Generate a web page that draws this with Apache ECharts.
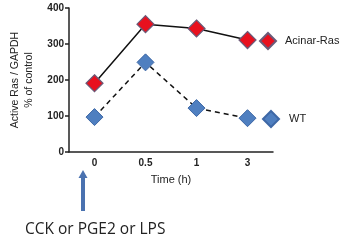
<!DOCTYPE html>
<html>
<head>
<meta charset="utf-8">
<script src="https://cdn.jsdelivr.net/npm/echarts@6/dist/echarts.min.js"></script>
<style>
html,body{margin:0;padding:0;background:#fff;}
#main{width:345px;height:242px;}
</style>
</head>
<body>
<div id="main"></div>
<script>
// time points (h)
var times = ['0', '0.5', '1', '3'];
// Active Ras / GAPDH, % of control
var acinarRas = [191, 355, 343, 311];
var wt = [97, 249, 122, 94];
var yTicks = [0, 100, 200, 300, 400];

var myChart = echarts.init(document.getElementById('main'));

var redItem = {color: '#e8101e', borderColor: '#6a5a78', borderWidth: 1.2};
var blueItem = {color: '#4f7fc0', borderColor: '#3e68a6', borderWidth: 1};

var option = {
	animation: false,
	backgroundColor: '#fff',
	grid: {left: 58, right: 72, top: 8, bottom: 90},
	legend: [{
		data: ['Acinar-Ras'], left: 254, top: 27,
		icon: 'diamond', itemWidth: 16, itemHeight: 16,
		textStyle: {fontFamily: 'Liberation Sans', fontSize: 11, color: '#222', padding: [0, 0, 0, 4]}
	}, {
		data: ['WT'], left: 257, top: 105,
		icon: 'diamond', itemWidth: 16, itemHeight: 16,
		textStyle: {fontFamily: 'Liberation Sans', fontSize: 11, color: '#222', padding: [0, 0, 0, 5]}
	}],
	xAxis: {
		type: 'category', data: times, boundaryGap: true,
		name: 'Time (h)', nameLocation: 'middle', nameGap: 22,
		nameTextStyle: {fontFamily: 'Liberation Sans', fontSize: 11, color: '#222'},
		axisLine: {lineStyle: {color: '#222', width: 1.5}},
		axisTick: {alignWithLabel: true, length: 4, lineStyle: {color: '#222', width: 1.5}},
		axisLabel: {fontFamily: 'Liberation Sans', fontWeight: 'bold', fontSize: 10, color: '#222', margin: 6}
	},
	yAxis: {
		type: 'value', min: yTicks[0], max: yTicks[yTicks.length - 1], interval: 100,
		name: 'Active Ras / GAPDH\n% of control', nameLocation: 'middle', nameGap: 33,
		nameTextStyle: {fontFamily: 'Liberation Sans', fontSize: 10.5, color: '#222', lineHeight: 14},
		axisLine: {show: true, lineStyle: {color: '#222', width: 1.5}},
		axisTick: {show: true, length: 4, lineStyle: {color: '#222', width: 1.5}},
		splitLine: {show: false},
		axisLabel: {fontFamily: 'Liberation Sans', fontWeight: 'bold', fontSize: 10, color: '#222', margin: 5}
	},
	series: [{
		name: 'Acinar-Ras', type: 'line', data: acinarRas,
		symbol: 'diamond', symbolSize: 17,
		lineStyle: {color: '#111', width: 1.5},
		itemStyle: redItem
	}, {
		name: 'WT', type: 'line', data: wt,
		symbol: 'diamond', symbolSize: 17,
		lineStyle: {color: '#111', width: 1.5, type: [5, 4]},
		itemStyle: blueItem
	}],
	graphic: [{
		type: 'rect', shape: {x: 81, y: 176, width: 4, height: 35},
		style: {fill: '#4a72b0'}
	}, {
		type: 'polygon', shape: {points: [[83, 170], [87.5, 178], [78.5, 178]]},
		style: {fill: '#4a72b0'}
	}, {
		type: 'text', left: 25, top: 222,
		style: {text: 'CCK or PGE2 or LPS', font: '15.5px "Open Sans"', fill: '#222'}
	}]
};
myChart.setOption(option);
</script>
</body>
</html>
